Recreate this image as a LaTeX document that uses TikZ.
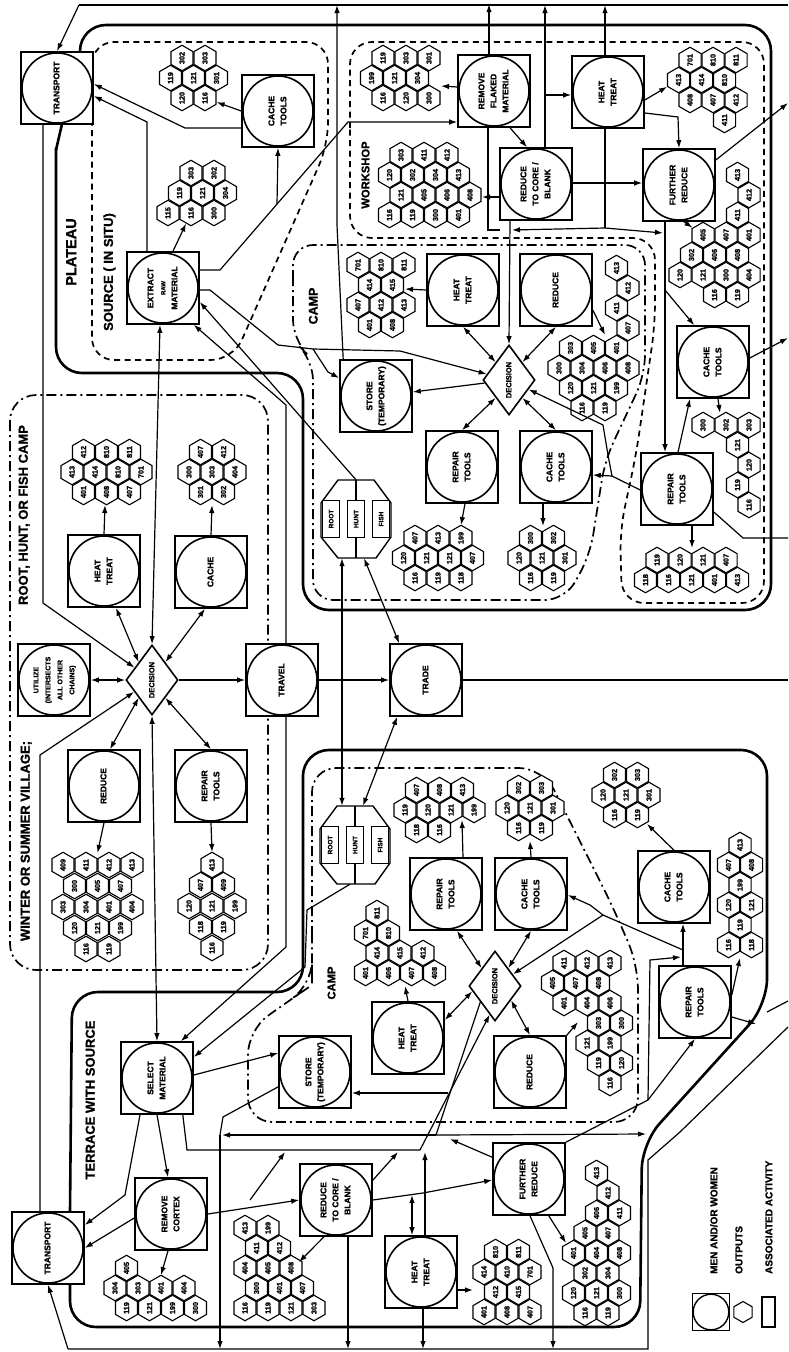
\documentclass[tikz,border=0pt]{standalone}
\usepackage{fontspec}
\setmainfont{Liberation Sans}[BoldFeatures={FakeBold=1.2}]
\usepackage{graphicx}
\usetikzlibrary{shapes.geometric,calc,arrows.meta,backgrounds}
\newcommand{\rt}[2][8.5]{\rotatebox{90}{\fontsize{#1}{12}\selectfont\bfseries\begin{tabular}{@{}c@{}}#2\end{tabular}}}
\newcommand{\hl}[1]{\rotatebox{90}{\fontsize{7.3}{7.3}\selectfont\bfseries #1}}
\newcommand{\hexes}[2]{\foreach \hx/\hy/\hlab [count=\hi] in {#2}{\node[hexn] (#1-\hi) at (\hx,\hy) {\hl{\hlab}};}}
\newcommand{\rhf}[3]{%
 \node[minimum width=70pt,minimum height=78pt,inner sep=0pt] (#1) at (#2,#3) {};
 \draw[line width=1.4pt,fill=white] ($(#1)+(-18,-39)$) -- ($(#1)+(18,-39)$) -- ($(#1)+(35,-16)$) -- ($(#1)+(35,18)$) -- ($(#1)+(20,39)$) -- ($(#1)+(-18,39)$) -- ($(#1)+(-35,18)$) -- ($(#1)+(-35,-16)$) -- cycle;
 \draw[line width=1.2pt] ($(#1)+(0,-39)$) -- ($(#1)+(0,39)$);
 \node[rbox] (#1-r) at ($(#1)+(-25,0)$) {\rt[6.5]{ROOT}};
 \node[rbox] (#1-h) at (#1) {\rt[6.5]{HUNT}};
 \node[rbox] (#1-f) at ($(#1)+(25,0)$) {\rt[6.5]{FISH}};
}
\begin{document}
\begin{tikzpicture}[x=1pt,y=-1pt,
 act/.style={draw,fill=white,line width=1.6pt,minimum size=72pt,inner sep=0pt,
   path picture={\draw[line width=1.6pt] (path picture bounding box.center) circle (35pt);}},
 lgact/.style={draw,fill=white,line width=1.4pt,minimum size=37pt,inner sep=0pt,
   path picture={\draw[line width=1.4pt] (path picture bounding box.center) circle (17.8pt);}},
 dia/.style={draw,fill=white,diamond,minimum width=52pt,minimum height=70pt,inner sep=0pt,line width=1.6pt},
 hexn/.style={draw,fill=white,regular polygon,regular polygon sides=6,shape border rotate=30,minimum size=25.5pt,inner sep=0pt,line width=1.1pt},
 rbox/.style={draw,fill=white,line width=1.4pt,minimum width=17pt,minimum height=37pt,inner sep=0pt},
 ln/.style={line width=1.2pt},
 arr/.style={ln,-{Latex[length=8pt,width=5.5pt]}},
 darr/.style={ln,{Latex[length=8pt,width=5.5pt]}-{Latex[length=8pt,width=5.5pt]}},
 bnd/.style={line width=2.6pt,line join=round},
 dsh/.style={line width=1.7pt,dash pattern=on 6pt off 4.5pt},
 ddot/.style={line width=1.7pt,dash pattern=on 10pt off 4pt on 2pt off 4pt},
 lab/.style={inner sep=0pt}]
\useasboundingbox (0,0) rectangle (788,1352);

% ---------------- activity nodes: plateau
\node[act] (TRt) at (57,88) {\rt{TRANSPORT}};
\node[act] (CTa) at (278,111) {\rt{CACHE\\TOOLS}};
\node[act] (EXT) at (163,288) {\rt{EXTRACT\\{\fontsize{6}{6}\selectfont RAW}\\MATERIAL}};
\node[act] (STp) at (376,396) {\rt{STORE\\(TEMPORARY)}};
\node[act] (RFM) at (494,91) {\rt{REMOVE\\FLAKED\\MATERIAL}};
\node[act] (HTa) at (608,92) {\rt{HEAT\\TREAT}};
\node[act] (RCa) at (536,184) {\rt{REDUCE\\TO CORE /\\BLANK}};
\node[act] (FRa) at (679,185) {\rt{FURTHER\\REDUCE}};
\node[act] (HTb) at (463,290) {\rt{HEAT\\TREAT}};
\node[act] (RDb) at (556,290) {\rt{REDUCE}};
\node[dia] (DCp) at (509,380) {\rt[7.5]{DECISION}};
\node[act] (CTc) at (713,362) {\rt{CACHE\\TOOLS}};
\node[act] (RTb) at (462,467) {\rt{REPAIR\\TOOLS}};
\node[act] (CTb) at (556,467) {\rt{CACHE\\TOOLS}};
\node[act] (RTc) at (677,489) {\rt{REPAIR\\TOOLS}};
\rhf{RHFp}{356}{519}
% ---------------- village
\node[dia] (DCv) at (152,680) {\rt[7.5]{DECISION}};
\node[act] (HTv) at (104,571) {\rt{HEAT\\TREAT}};
\node[act] (CAv) at (211,572) {\rt{CACHE}};
\node[act] (UTv) at (54,680) {\rt[7]{UTILIZE\\(INTERSECTS\\ALL OTHER\\CHAINS)}};
\node[act] (TRV) at (282,680) {\rt{TRAVEL}};
\node[act] (TRD) at (426,680) {\rt{TRADE}};
\node[act] (RDv) at (104,786) {\rt{REDUCE}};
\node[act] (RTv) at (211,786) {\rt{REPAIR\\TOOLS}};
% ---------------- terrace
\rhf{RHFt}{355}{845}
\node[act] (SEL) at (157,1078) {\rt{SELECT\\MATERIAL}};
\node[act] (STt) at (315,1072) {\rt{STORE\\(TEMPORARY)}};
\node[act] (HTc) at (408,1038) {\rt{HEAT\\TREAT}};
\node[dia] (DCt) at (495,986) {\rt[7.5]{DECISION}};
\node[act] (RTd) at (446,894) {\rt{REPAIR\\TOOLS}};
\node[act] (CTd) at (531,894) {\rt{CACHE\\TOOLS}};
\node[act] (RDt) at (530,1072) {\rt{REDUCE}};
\node[act] (CTe) at (674,887) {\rt{CACHE\\TOOLS}};
\node[act] (RTe) at (695,1002) {\rt{REPAIR\\TOOLS}};
\node[act] (RCX) at (171,1214) {\rt{REMOVE\\CORTEX}};
\node[act] (TRb) at (48,1248) {\rt{TRANSPORT}};
\node[act] (RCt) at (336,1200) {\rt{REDUCE\\TO CORE /\\BLANK}};
\node[act] (HTt) at (421,1272) {\rt{HEAT\\TREAT}};
\node[act] (FRt) at (529,1179) {\rt{FURTHER\\REDUCE}};

% ---------------- hexagon clusters (outputs)
\hexes{P1}{182/58/302,205/58/303,170.5/78/119,193.5/78/121,216.5/78/301,182/98/120,205/98/116}
\hexes{P2}{191/173/303,214/173/302,179.5/193/119,202.5/193/121,225.5/193/304,168/213/115,191/213/116,214/213/300}
\hexes{P3}{383/58/119,406/58/303,429/58/301,371.5/78/199,394.5/78/121,417.5/78/304,383/98/116,406/98/120,429/98/300}
\hexes{P4}{401/155/303,424/155/411,447/155/412,389.5/175/120,412.5/175/302,435.5/175/304,458.5/175/413,401/195/121,424/195/405,447/195/406,470/195/408,389.5/215/116,412.5/215/119,435.5/215/300,458.5/215/401}
\hexes{P5}{690/60/701,713/60/810,736/60/811,678.5/80/413,701.5/80/414,724.5/80/810,690/100/408,713/100/407,736/100/412,724.5/120/411}
\hexes{P6}{737.5/175/413,749/195/412,737.5/215/411,703/235/405,726/235/407,749/235/401,691.5/255/302,714.5/255/406,737.5/255/408,680/275/120,703/275/121,726/275/300,749/275/404,714.5/295/116,737.5/295/119}
\hexes{P7}{358/265/701,381/265/810,404/265/811,369.5/285/414,392.5/285/415,358/305/407,381/305/412,404/305/413,369.5/325/401,392.5/325/408}
\hexes{P8}{616.5/268/413,628/288/412,616.5/308/411,628/328/407,570.5/348/303,593.5/348/405,616.5/348/401,559/368/300,582/368/304,605/368/406,628/368/408,570.5/388/120,593.5/388/121,616.5/388/199,582/408/116,605/408/119}
\hexes{P9}{415/538/407,438/538/413,461/538/199,403.5/558/120,426.5/558/121,449.5/558/121,472.5/558/407,415/578/116,438/578/119,461/578/118}
\hexes{P10}{530.5/538/300,553.5/538/302,519/558/120,542/558/121,565/558/301,530.5/578/116,553.5/578/119}
\hexes{P11}{657/560/119,680/560/120,703/560/121,726/560/407,645.5/580/118,668.5/580/116,691.5/580/121,714.5/580/401,737.5/580/413}
\hexes{P12}{703/425/300,726/425/302,749/425/303,737.5/445/121,749/465/120,737.5/485/119,749/505/116}
\hexes{V1}{83.5/452/412,106.5/452/810,129.5/452/811,72/472/413,95/472/414,118/472/810,141/472/701,83.5/492/401,106.5/492/408,129.5/492/407}
\hexes{V2}{200.5/452/407,223.5/452/412,189/472/300,212/472/303,235/472/404,200.5/492/301,223.5/492/302}
\hexes{V3}{63/865/409,86/865/411,109/865/412,132/865/413,74.5/886/300,97.5/886/405,120.5/886/407,63/907/303,86/907/304,109/907/401,132/907/404,74.5/928/120,97.5/928/121,120.5/928/199,86/949/116,109/949/119}
\hexes{V4}{212/865/413,200.5/885/407,223.5/885/409,189/906/120,212/906/121,235/906/199,200.5/927/118,223.5/927/119,212/948/116}
\hexes{T1}{377/913/811,365.5/933/701,388.5/933/810,377/953/414,400/953/415,423/953/412,365.5/973/401,388.5/973/406,411.5/973/407,434.5/973/408}
\hexes{T2}{564/963/411,587/963/412,610/963/413,552.5/983/405,575.5/983/407,598.5/983/408,564/1003/401,587/1003/404,610/1003/406,598.5/1023/303,621.5/1023/300,587/1043/121,610/1043/199,598.5/1063/119,621.5/1063/120,610/1083/116}
\hexes{T3}{416.5/790/407,439.5/790/408,462.5/790/413,405/810/119,428/810/120,451/810/121,474/810/199,416.5/830/118,439.5/830/116}
\hexes{T4}{518.5/788/302,541.5/788/303,507/808/120,530/808/121,553/808/301,518.5/828/116,541.5/828/119}
\hexes{T5}{614.5/775/302,637.5/775/303,603/795/120,626/795/121,649/795/301,614.5/815/116,637.5/815/119}
\hexes{T6}{740/845/413,728.5/865/407,751.5/865/408,740/885/199,728.5/905/120,751.5/905/121,740/925/119,728.5/945/116,751.5/945/118}
\hexes{T7}{126.5/1268/405,115/1288/304,138/1288/303,161/1288/401,184/1288/404,126.5/1308/119,149.5/1308/121,172.5/1308/199,195.5/1308/300}
\hexes{T8}{245/1228/413,268/1228/199,256.5/1248/411,279.5/1248/412,245/1268/404,268/1268/405,291/1268/408,256.5/1288/300,279.5/1288/401,302.5/1288/407,245/1308/116,268/1308/119,291/1308/121,314/1308/303}
\hexes{T9}{495.5/1252/810,518.5/1252/811,484/1272/414,507/1272/410,530/1272/701,495.5/1292/412,518.5/1292/415,484/1312/401,507/1312/408,530/1312/407}
\hexes{T10}{596.5/1173/413,608/1193/412,596.5/1213/406,619.5/1213/411,585/1233/405,608/1233/407,573.5/1253/401,596.5/1253/404,619.5/1253/408,585/1273/302,608/1273/304,573.5/1293/120,596.5/1293/121,619.5/1293/300,585/1313/116,608/1313/119}

% ---------------- legend
\node[lgact] (LGa) at (711,1312) {};
\node[hexn,minimum size=21pt] (LGb) at (743,1312) {};
\node[draw,line width=1.4pt,minimum width=13pt,minimum height=30pt,inner sep=0pt] (LGc) at (768.5,1312) {};
\node[lab,anchor=south] (LGta) at (715,1274) {\rt[10]{MEN AND/OR WOMEN}};
\node[lab,anchor=south] (LGtb) at (740,1274) {\rt[10]{OUTPUTS}};
\node[lab,anchor=south] (LGtc) at (770,1274) {\rt[10]{ASSOCIATED ACTIVITY}};

% ---------------- region labels
\node[lab] (lPLAT) at (73,252) {\rt[14.5]{PLATEAU}};
\node[lab] (lSRC) at (110,272) {\rt[13]{SOURCE ( IN SITU)}};
\node[lab] (lCAMPp) at (315,306) {\rt[12.5]{CAMP}};
\node[lab] (lWS) at (367,175) {\rt[11.2]{WORKSHOP}};
\node[lab] (lRHF) at (25,515) {\rt[13]{ROOT, HUNT, OR FISH CAMP}};
\node[lab] (lWSV) at (27,841) {\rt[13]{WINTER OR SUMMER VILLAGE;}};
\node[lab] (lTER) at (92,1100) {\rt[13]{TERRACE WITH SOURCE}};
\node[lab] (lCAMPt) at (333,983) {\rt[11.2]{CAMP}};

% ---------------- named coordinates
\coordinate (bTL) at (79,5);
\coordinate (bTR) at (788,5);
\coordinate (bBL) at (68,1349);
\coordinate (xFR) at (788,103);
\coordinate (xCT) at (788,338);
\coordinate (xRT) at (788,538);
\coordinate (xTD) at (788,680);
\coordinate (cP3) at (441,86);
\coordinate (cP4) at (482,197);
\coordinate (cP7) at (405,289);
\coordinate (cP8) at (605,335);
\coordinate (cP9) at (461,525);
\coordinate (cP10) at (543,526);
\coordinate (cP11) at (692,548);
\coordinate (cP12) at (720,413);
\coordinate (cV1) at (105,505);
\coordinate (cV2) at (212,505);
\coordinate (cV3) at (97.5,853);
\coordinate (cV4) at (212,852);
\coordinate (cT1) at (405,986);
\coordinate (cT2) at (578,1022);
\coordinate (cT3) at (462,820);
\coordinate (cT4) at (530,841);
\coordinate (cT5) at (647,824);
\coordinate (cT6) at (740,958);
\coordinate (cT7) at (161,1275);
\coordinate (cT8) at (299,1262);
\coordinate (cT9) at (473,1290);
\coordinate (cT10) at (566,1243);
\coordinate (jA) at (277,204);
\coordinate (jB) at (605,228);
\coordinate (jC) at (612,476);
\coordinate (jD) at (313,349);
\coordinate (jE) at (342,680);
\coordinate (jF) at (436,1135);
\coordinate (jG) at (648,1100);
\coordinate (jH) at (603,915);
\coordinate (jK) at (250,1200);
\coordinate (jL) at (220,1135);
\coordinate (jM) at (488,230);

% ---------------- connectors: plateau
\draw[ln] (bTL) -- (bTR);
\draw[arr] (bTL) -- (TRt.north);
\draw[arr] ($(CTa.west)+(0,17)$) -- (185,128) -- ($(TRt.east)+(0,-4)$);
\draw[arr] ($(EXT.north)+(-16,0)$) -- (147,122) -- ($(TRt.east)+(0,8)$);
\draw[arr] ($(EXT.north)+(10,0)$) -- (P2-7);
\draw[arr] ($(EXT.east)+(0,-18)$) -- (220,270) -- (348,122) -- ($(RFM.west)+(0,31)$);
\draw[arr] (jA) -- (CTa.south);
\draw[arr] (CTa.west) -- (P1-7);
\draw[arr] ($(STp.north west)+(4,0)$) -- (337,225) -- (337,5);
\draw[arr] ($(RFM.north)+(-5,0)$) -- ++(0,-50);
\draw[arr] ($(RCa.north)+(9,0)$) -- (545,5);
\draw[arr] (545,95) -- ($(HTa.west)+(0,3)$);
\draw[arr] ($(HTa.north)+(-3,0)$) -- ++(0,-50);
\draw[arr] ($(RFM.west)+(0,-4)$) -- (cP3);
\draw[arr] ($(RFM.south)+(16,0)$) -- ($(RCa.north)+(-9,0)$);
\draw[ln] ($(RFM.south)+(-6,0)$) -- (jM) -- (500,230);
\draw[arr] ($(RCa.west)+(0,13)$) -- (cP4);
\draw[arr] ($(RCa.south)+(-26,0)$) -- (DCp.north);
\draw[ln] ($(HTa.south)+(-3,0)$) -- (jB);
\draw[arr] (jB) -- (663,233);
\draw[arr] (jB) -- (512,230);
\draw[arr] ($(HTa.east)+(0,8)$) -- (P5-4);
\draw[arr] ($(HTa.east)+(0,21)$) -- (678,117) -- (FRa.north);
\draw[arr] ($(RCa.east)+(0,-1)$) -- ($(FRa.west)+(0,-2)$);
\draw[arr] ($(FRa.east)+(0,-25)$) -- (xFR);
\draw[arr] ($(FRa.south)+(5,0)$) -- (P6-4);
\draw[arr] ($(FRa.south)+(-14,0)$) -- ($(RTc.north)+(-12,0)$);
\draw[arr] (665,290) -- ($(CTc.north west)+(18,0)$);
\draw[arr] ($(CTc.east)+(0,-4)$) -- (xCT);
\draw[arr] ($(CTc.south)+(5,0)$) -- (cP12);
\draw[arr] ($(RTc.north)+(1,0)$) -- ($(CTc.south)+(-23,0)$);
\draw[ln] ($(RTc.east)+(0,23)$) -- (743,538) -- (xRT);
\draw[arr] ($(RTc.south)+(15,0)$) -- (cP11);
\draw[ln] ($(RTc.west)+(0,1)$) -- (jC);
\draw[arr] (jC) -- ($(CTb.east)+(0,8)$);
\draw[arr] (jC) -- (608,455) -- (603,425) -- (DCp);
\draw[darr] (DCp.north west) -- (HTb.south);
\draw[darr] (DCp.north east) -- (RDb.south);
\draw[darr] (DCp.south west) -- (RTb.north);
\draw[darr] (DCp.south east) -- (CTb.north);
\draw[ln] ($(EXT.east)+(0,2)$) -- (210,290) -- (278,345) -- (jD);
\draw[arr] (jD) -- (400,351) -- (DCp);
\draw[arr] (jD) -- (328,372) -- ($(STp.west)+(0,-18)$);
\draw[arr] (DCp) -- ($(STp.east)+(0,-4)$);
\draw[arr] (HTb.west) -- (cP7);
\draw[arr] ($(RDb.east)+(0,20)$) -- (cP8);
\draw[arr] ($(RTb.south)+(3,0)$) -- (cP9);
\draw[arr] ($(CTb.south)+(-13,0)$) -- (cP10);
\draw[arr] (RHFp.north) -- ($(EXT.east)+(0,14)$);
\draw[arr] ($(TRV.north)+(4,0)$) -- (286,405) -- ($(EXT.south east)+(-6,0)$);
\draw[darr] ($(EXT.south)+(-3,0)$) -- (DCv.north);
\draw[arr] ($(TRt.south)+(-14,0)$) -- (43,603) -- (DCv);
\draw[arr] ($(TRb.north)+(-8,0)$) -- (40,755) -- (DCv);

% ---------------- connectors: village / travel / trade
\draw[darr] (UTv.east) -- (DCv.west);
\draw[darr] (DCv.north west) -- ($(HTv.south)+(12,0)$);
\draw[darr] (DCv.north east) -- ($(CAv.south)+(-6,0)$);
\draw[darr] (DCv.south west) -- ($(RDv.north)+(6,0)$);
\draw[darr] (DCv.south east) -- (RTv.north);
\draw[arr] (DCv.east) -- (TRV.west);
\draw[arr] (TRV.east) -- (TRD.west);
\draw[arr] (jE) -- ($(RHFp.south)+(-14,0)$);
\draw[arr] (jE) -- ($(RHFt.north)+(-13,0)$);
\draw[darr] ($(RHFp.south)+(8,0)$) -- ($(TRD.north west)+(10,0)$);
\draw[darr] ($(RHFt.north)+(8,0)$) -- ($(TRD.south west)+(8,0)$);
\draw[ln] (TRD.east) -- (xTD);
\draw[arr] ($(TRV.south)+(4,0)$) -- (286,947) -- ($(SEL.north east)+(-13,0)$);
\draw[arr] ($(RHFt.south)+(-5,0)$) -- (307,910) -- (305,967) -- ($(SEL.east)+(0,-21)$);
\draw[darr] (SEL.north) -- (DCv.south);
\draw[arr] (HTv.north) -- (cV1);
\draw[arr] (CAv.north) -- (cV2);
\draw[arr] (RDv.south) -- (cV3);
\draw[arr] (RTv.south) -- (cV4);

% ---------------- connectors: terrace
\draw[arr] ($(SEL.east)+(0,-3)$) -- ($(STt.west)+(0,-19)$);
\draw[ln] ($(STt.south west)+(0,-22)$) -- (223,1117) -- (jL);
\draw[arr] (jL) -- (220,1349);
\draw[ln] ($(DCt.west)!0.45!(DCt.south)$) -- (jF);
\draw[arr] (jF) -- (222,1135);
\draw[arr] (jF) -- (646,1134);
\draw[arr] (448,1093) -- ($(STt.east)+(0,21)$);
\draw[ln] ($(SEL.south east)+(-11,0)$) -- (187,1150) -- (420,1150);
\draw[arr] (420,1150) -- ($(DCt.west)!0.8!(DCt.south)$);
\draw[arr] (jK) -- (285,1152);
\draw[arr] ($(RCt.north east)+(0,17)$) -- (398,1152);
\draw[arr] ($(HTt.north)+(4,0)$) -- (425,1152);
\draw[arr] ($(FRt.north west)+(0,15)$) -- (450,1139);
\draw[arr] (RCX.east) -- (RCt.west);
\draw[arr] (SEL.south) -- ($(RCX.north)+(-3,0)$);
\draw[arr] ($(SEL.south)+(-17,0)$) -- (125,1195) -- ($(TRb.east)+(0,-23)$);
\draw[arr] ($(RCX.west)+(0,4)$) -- (TRb.east);
\draw[arr] ($(RCX.south)+(-3,0)$) -- (cT7);
\draw[arr] ($(RCt.south)+(-12,0)$) -- (cT8);
\draw[arr] ($(RCt.south)+(12,0)$) -- (348,1349);
\draw[arr] (RCt.east) -- (423,1193) -- ($(FRt.west)+(0,1)$);
\draw[darr] (412,1195) -- ($(HTt.north)+(-9,0)$);
\draw[arr] ($(HTt.east)+(0,18)$) -- (cT9);
\draw[arr] ($(HTt.south)+(2,0)$) -- (423,1349);
\draw[arr] ($(FRt.south east)+(-17,0)$) -- (cT10);
\draw[arr] ($(FRt.south)+(1,0)$) -- (553,1268) -- (553,1349);
\draw[ln] (FRt.north east) -- (jG);
\draw[arr] (jG) -- (RTe.south);
\draw[arr] (jG) -- (650,960) -- (681,957);
\draw[arr] ($(RTe.north)+(-12,0)$) -- ($(CTe.south)+(9,0)$);
\draw[ln] (683,950) -- (jH);
\draw[arr] (jH) -- (590,905) -- ($(CTd.east)+(0,1)$);
\draw[arr] (jH) -- (DCt);
\draw[arr] (CTe.north) -- (cT5);
\draw[arr] ($(RTe.east)+(0,-7)$) -- (cT6);
\draw[arr] ($(RTe.east)+(0,15)$) -- (756,1024);
\draw[darr] (DCt.north west) -- ($(RTd.south)+(11,0)$);
\draw[darr] (DCt.north east) -- (CTd.south);
\draw[darr] ($(DCt.west)!0.15!(DCt.south)$) -- ($(HTc.east)+(0,-18)$);
\draw[darr] ($(DCt.east)!0.4!(DCt.south)$) -- (RDt.north);
\draw[arr] (HTc.north) -- (cT1);
\draw[arr] (RDt.north east) -- (cT2);
\draw[arr] ($(RTd.north)+(17,0)$) -- (cT3);
\draw[arr] (CTd.north) -- (cT4);
\draw[ln] (bBL) -- (648,1349) -- (648,1160) -- (680,1132) -- (788,1027);
\draw[arr] (bBL) -- (TRb.south);
\draw[ln] (767,1012) -- (788,1001);

% ---------------- boundaries (behind)
\begin{pgfonlayer}{background}
\fill[white] (0,0) rectangle (788,1352);
% plateau
\draw[bnd] (62,124) -- (56,150);
\draw[bnd,rounded corners=26] (56,148) -- (56,373) -- (303,373) -- (303,610) -- (771,610) -- (771,25) -- (80,25) -- (80,52);
% terrace
\draw[bnd,rounded corners=26] (70,1212) -- (72,992) -- (303,992) -- (303,750) -- (767,750) -- (767,1005) -- (642,1143) -- (640,1327) -- (70,1327) -- (70,1284);
% source
\draw[dsh,rounded corners=22] (92,200) -- (92,42) -- (328,42) -- (328,145) -- (233,360) -- (92,360) -- cycle;
% workshop
\draw[dsh,rounded corners=22] (350,150) -- (350,42) -- (764,42) -- (764,603) -- (622,603) -- (620,530) -- (636,455) -- (655,325) -- (655,238) -- (350,238) -- cycle;
% plateau camp
\draw[ddot,rounded corners=20] (293,300) -- (293,245) -- (645,245) -- (645,375) -- (605,460) -- (590,555) -- (565,600) -- (313,600) -- (313,360) -- (293,340) -- cycle;
% village
\draw[ddot,rounded corners=26] (10,395) rectangle (268,970);
% terrace camp
\draw[ddot,rounded corners=24] (312,960) -- (312,768) -- (543,768) -- (612,905) -- (638,965) -- (638,1122) -- (248,1122) -- (248,1030) -- (290,1000) -- (312,985) -- cycle;
\end{pgfonlayer}
\end{tikzpicture}
\end{document}
